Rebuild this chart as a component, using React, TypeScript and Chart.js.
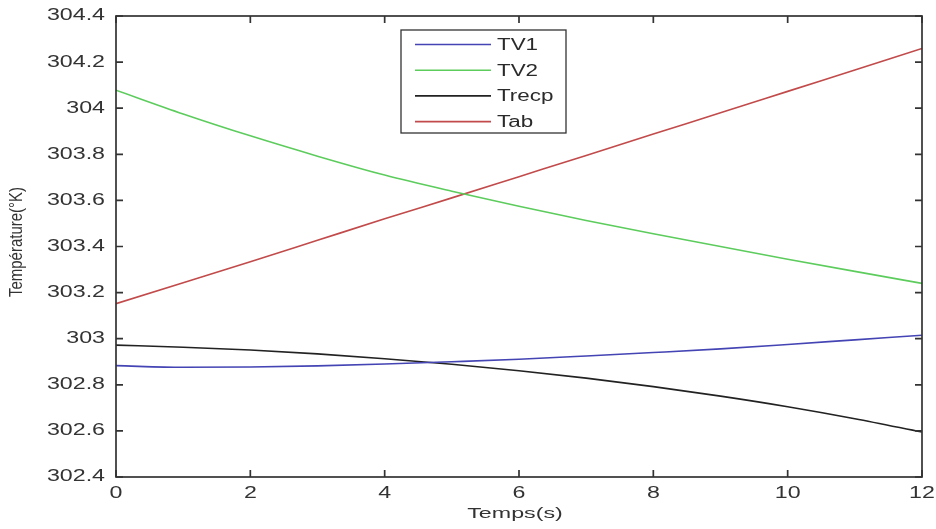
import React, { useEffect, useRef } from "react";
import { Chart, registerables } from "chart.js";

Chart.register(...registerables);

const times = [0, 1, 2, 3, 4, 5, 6, 7, 8, 9, 10, 11, 12];
const tv1 = [302.883, 302.876, 302.877, 302.882, 302.89, 302.9, 302.911, 302.925, 302.94, 302.956, 302.975, 302.995, 303.015];
const tv2 = [304.078, 303.975, 303.88, 303.792, 303.71, 303.64, 303.575, 303.513, 303.455, 303.4, 303.345, 303.292, 303.24];
const trecp = [302.972, 302.963, 302.951, 302.934, 302.913, 302.889, 302.861, 302.829, 302.792, 302.751, 302.705, 302.653, 302.595];
const tab = [303.152, 303.243, 303.334, 303.427, 303.52, 303.611, 303.703, 303.795, 303.888, 303.98, 304.073, 304.166, 304.259];

const seriesLabels = ["TV1", "TV2", "Trecp", "Tab"];
const seriesColors = ["#4444b4", "#5ccc5c", "#222222", "#c24a4a"];
const xTicks = [0, 2, 4, 6, 8, 10, 12];
const yTicks = [302.4, 302.6, 302.8, 303, 303.2, 303.4, 303.6, 303.8, 304, 304.2, 304.4];
const xTitle = "Temps(s)";
const yTitle = "Température(°K)";

const FONT = "'Liberation Sans', Arial, sans-serif";
const AXIS = "#333333";

function stretchedText(ctx: CanvasRenderingContext2D, text: string, x: number, y: number, align: CanvasTextAlign, sx: number) {
  ctx.save();
  ctx.translate(x, y);
  ctx.scale(sx, 1);
  ctx.textAlign = align;
  ctx.textBaseline = "middle";
  ctx.fillText(text, 0, 0);
  ctx.restore();
}

const matlabAxes = {
  id: "matlabAxes",
  afterDraw(chart: any) {
    const ctx: CanvasRenderingContext2D = chart.ctx;
    const { left, right, top, bottom } = chart.chartArea;
    const xs = chart.scales.x;
    const ys = chart.scales.y;
    ctx.save();
    // box
    ctx.strokeStyle = AXIS;
    ctx.lineWidth = 1.7;
    ctx.strokeRect(left, top, right - left, bottom - top);
    // ticks (inward, all sides)
    const tl = 7;
    ctx.beginPath();
    xTicks.forEach((t) => {
      const px = xs.getPixelForValue(t);
      ctx.moveTo(px, bottom);
      ctx.lineTo(px, bottom - tl);
      ctx.moveTo(px, top);
      ctx.lineTo(px, top + tl);
    });
    yTicks.forEach((t) => {
      const py = ys.getPixelForValue(t);
      ctx.moveTo(left, py);
      ctx.lineTo(left + tl, py);
      ctx.moveTo(right, py);
      ctx.lineTo(right - tl, py);
    });
    ctx.stroke();
    // tick labels
    ctx.fillStyle = "#333333";
    ctx.font = `16px ${FONT}`;
    yTicks.forEach((t) => {
      const py = ys.getPixelForValue(t);
      stretchedText(ctx, String(Number(t.toFixed(1))), left - 11, py, "right", 1.45);
    });
    xTicks.forEach((t) => {
      const px = xs.getPixelForValue(t);
      stretchedText(ctx, String(t), px, bottom + 17, "center", 1.45);
    });
    // axis titles
    ctx.font = `15px ${FONT}`;
    stretchedText(ctx, xTitle, (left + right) / 2 - 4, bottom + 37, "center", 1.55);
    ctx.save();
    ctx.translate(17, 242);
    ctx.scale(1.25, 1);
    ctx.rotate(-Math.PI / 2);
    ctx.textAlign = "center";
    ctx.textBaseline = "middle";
    ctx.fillText(yTitle, 0, 0);
    ctx.restore();
    // legend
    const bx = 401, by = 30, bw = 165, bh = 103;
    ctx.fillStyle = "#ffffff";
    ctx.fillRect(bx, by, bw, bh);
    ctx.strokeStyle = AXIS;
    ctx.lineWidth = 1.3;
    ctx.strokeRect(bx, by, bw, bh);
    ctx.font = `16px ${FONT}`;
    chart.data.datasets.forEach((ds: any, i: number) => {
      const ry = by + 14.5 + i * 25.7;
      ctx.strokeStyle = ds.borderColor;
      ctx.lineWidth = 1.6;
      ctx.beginPath();
      ctx.moveTo(415, ry);
      ctx.lineTo(491, ry);
      ctx.stroke();
      ctx.fillStyle = "#2a2a2a";
      stretchedText(ctx, ds.label, 497, ry + 1, "left", 1.4);
    });
    ctx.restore();
  },
};

export default function App() {
  const ref = useRef<HTMLCanvasElement>(null);
  useEffect(() => {
    document.body.style.margin = "0";
    const series = [tv1, tv2, trecp, tab];
    const chart = new Chart(ref.current as HTMLCanvasElement, {
      type: "line",
      data: {
        datasets: series.map((vals, i) => ({
          label: seriesLabels[i],
          data: times.map((t, j) => ({ x: t, y: vals[j] })),
          borderColor: seriesColors[i],
          backgroundColor: seriesColors[i],
          borderWidth: 1.6,
          pointRadius: 0,
          cubicInterpolationMode: "monotone" as const,
          fill: false,
        })),
      },
      options: {
        responsive: false,
        animation: false,
        layout: { padding: { left: 0, right: 14, top: 16, bottom: 0 } },
        plugins: { legend: { display: false }, tooltip: { enabled: false } },
        scales: {
          x: {
            type: "linear",
            min: 0,
            max: 12,
            ticks: { display: false },
            grid: { display: false },
            border: { display: false },
            afterFit: (s: any) => { s.height = 52; },
          },
          y: {
            type: "linear",
            min: 302.4,
            max: 304.4,
            ticks: { display: false },
            grid: { display: false },
            border: { display: false },
            afterFit: (s: any) => { s.width = 116; },
          },
        },
      },
      plugins: [matlabAxes],
    });
    return () => chart.destroy();
  }, []);
  return (
    <div style={{ position: "absolute", left: 0, top: 0, width: 936, height: 529, background: "#fff" }}>
      <canvas ref={ref} width={936} height={529} />
    </div>
  );
}
